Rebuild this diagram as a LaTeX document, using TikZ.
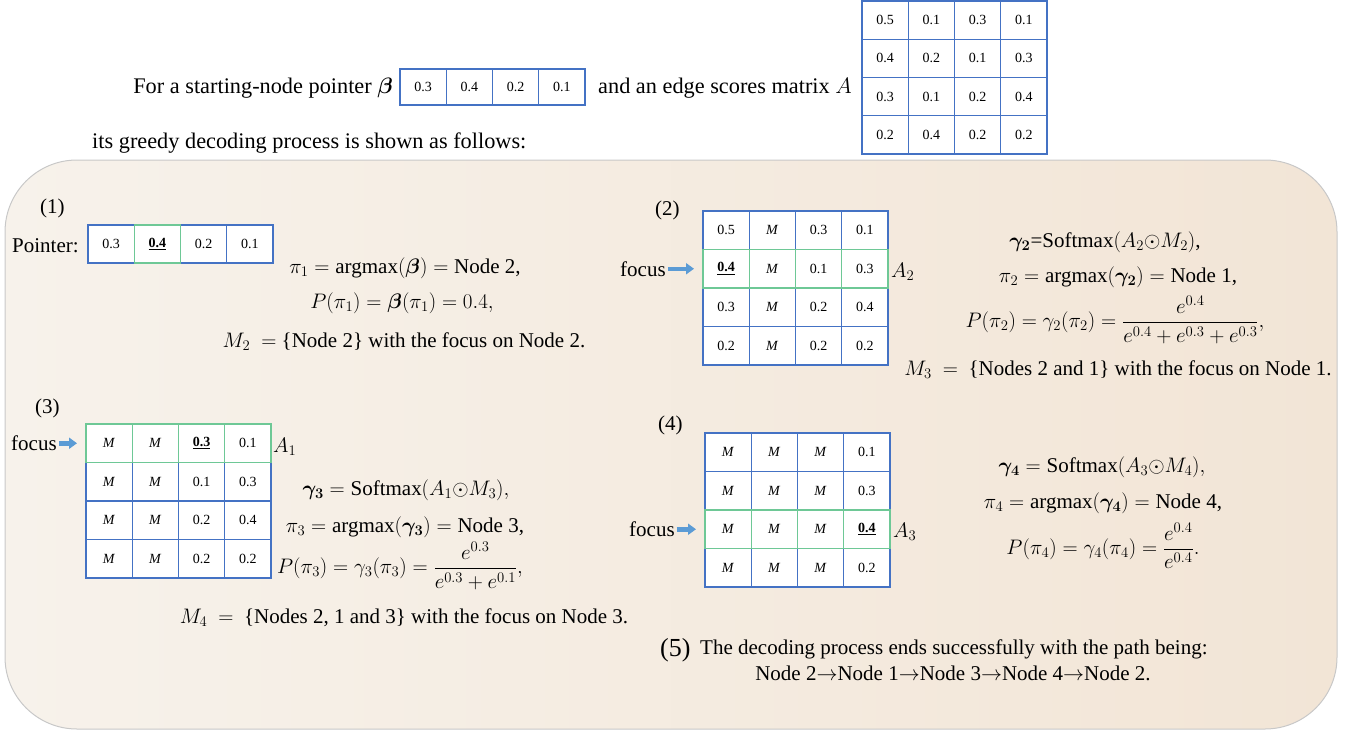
\RequirePackage{fix-cm}
\documentclass[tikz,border=0pt]{standalone}
\usepackage{amsmath,bm}
\usepackage{fontspec}
\setmainfont{Liberation Serif}
\usetikzlibrary{arrows.meta}
\definecolor{cblue}{RGB}{68,114,196}
\definecolor{cgreen}{RGB}{110,200,150}
\definecolor{bgl}{RGB}{247,242,235}
\definecolor{bgr}{RGB}{242,229,214}
\definecolor{bord}{RGB}{200,200,200}
\definecolor{arrfill}{RGB}{91,155,213}
\newcommand{\Mi}{\textit{M}}
\newcommand{\hlv}[1]{\underline{\textbf{#1}}}
\newcommand{\ra}{$\rightarrow$}
\tikzset{
  cell/.style={draw=cblue, line width=1.2pt, fill=white, minimum width=46.25pt,
    inner sep=0pt, outer sep=0pt, font=\fontsize{14}{16}\selectfont},
  hlline/.style={draw=cgreen, line width=1.3pt},
  txt/.style={font=\fontsize{21}{25}\selectfont, inner sep=0pt},
  bigtxt/.style={font=\fontsize{22.3}{26}\selectfont, inner sep=0pt},
  eq/.style={txt, anchor=center},
  focusarr/.style={draw=arrfill, line width=4.5pt, -{Triangle[length=8pt,width=11pt]},
    shorten <=2pt, shorten >=9pt},
}
\newcommand{\gridmat}[5]{%
  \foreach [count=\r] \row in {#5} {%
    \foreach [count=\c] \v in \row {%
      \node[cell, minimum height=#4pt] (#1-\r-\c) at ({#2+(\c-0.5)*46.25},{#3+(\r-0.5)*#4}) {\v};
    }%
  }%
}
\newcommand{\hlrow}[2]{%
  \foreach \c in {1,...,4} {\draw[hlline] (#1-#2-\c.north west) rectangle (#1-#2-\c.south east);}%
}
\begin{document}
\begin{tikzpicture}[x=1pt,y=-1pt]
\useasboundingbox (0,0) rectangle (1346,733);
\shadedraw[left color=bgl, right color=bgr, draw=bord, line width=1pt, rounded corners=72pt]
  (5,160) rectangle (1337,729);

% intro
\node[bigtxt, anchor=east] (intro) at (393,88) {For a starting-node pointer $\bm{\beta}$};
\gridmat{beta}{400}{69}{36}{{0.3,0.4,0.2,0.1}}
\node[bigtxt, anchor=west] (intro2) at (598,88) {and an edge scores matrix $A$};
\gridmat{A}{862}{1}{38.25}{{0.5,0.1,0.3,0.1},{0.4,0.2,0.1,0.3},{0.3,0.1,0.2,0.4},{0.2,0.4,0.2,0.2}}
\node[bigtxt, anchor=west] (intro3) at (92,143) {its greedy decoding process is shown as follows:};

% (1)
\node[txt, anchor=west] (n1) at (40,208) {(1)};
\node[txt, anchor=west] (ptr) at (12,246) {Pointer:};
\gridmat{p1}{88}{225}{38}{{0.3,\hlv{0.4},0.2,0.1}}
\draw[hlline] (p1-1-2.north west) rectangle (p1-1-2.south east);
\node[eq] (e1a) at (405,268) {$\pi_1 = \text{argmax}(\bm{\beta}) = \text{Node 2,}$};
\node[eq] (e1b) at (402,303) {$P(\pi_1) = \bm{\beta}(\pi_1) = 0.4,$};
\node[eq] (e1c) at (404,342) {$M_2\ =\ $\{Node 2\} with the focus on Node 2.};

% (2)
\node[txt, anchor=west] (n2) at (655,210) {(2)};
\gridmat{m2}{703}{211}{38.5}{{0.5,\Mi,0.3,0.1},{\hlv{0.4},\Mi,0.1,0.3},{0.3,\Mi,0.2,0.4},{0.2,\Mi,0.2,0.2}}
\hlrow{m2}{2}
\node[txt, anchor=west] (f2) at (620,268.75) {focus};
\draw[focusarr] (f2.east) -- (f2.east -| m2-2-1.west);
\node[txt, anchor=west] (a2) at (891,272) {$A_2$};
\node[eq] (e2a) at (1105,242) {$\bm{\gamma_2}$=Softmax$(A_2{\odot}M_2)$,};
\node[eq] (e2b) at (1118,277) {$\pi_2 = \text{argmax}(\bm{\gamma_2}) = \text{Node 1,}$};
\node[eq] (e2c) at (1115,320) {$P(\pi_2) = \gamma_2(\pi_2) = \dfrac{e^{0.4}}{e^{0.4}+e^{0.3}+e^{0.3}},$};
\node[eq] (e2d) at (1118,370) {$M_3\ =\ $ \{Nodes 2 and 1\} with the focus on Node 1.};

% (3)
\node[txt, anchor=west] (n3) at (35,408) {(3)};
\gridmat{m3}{86}{424}{38.5}{{\Mi,\Mi,\hlv{0.3},0.1},{\Mi,\Mi,0.1,0.3},{\Mi,\Mi,0.2,0.4},{\Mi,\Mi,0.2,0.2}}
\hlrow{m3}{1}
\node[txt, anchor=west] (f3) at (11,443.25) {focus};
\draw[focusarr] (f3.east) -- (f3.east -| m3-1-1.west);
\node[txt, anchor=west] (a3) at (273,447) {$A_1$};
\node[eq] (e3a) at (406,490) {$\bm{\gamma_3} = \text{Softmax}(A_1{\odot}M_3),$};
\node[eq] (e3b) at (405,527) {$\pi_3 = \text{argmax}(\bm{\gamma_3}) = \text{Node 3,}$};
\node[eq] (e3c) at (400,566) {$P(\pi_3) = \gamma_3(\pi_3) = \dfrac{e^{0.3}}{e^{0.3}+e^{0.1}},$};
\node[eq] (e3d) at (404,618) {$M_4\ =\ $ \{Nodes 2, 1 and 3\} with the focus on Node 3.};

% (4)
\node[txt, anchor=west] (n4) at (658,425) {(4)};
\gridmat{m4}{705}{433}{38.5}{{\Mi,\Mi,\Mi,0.1},{\Mi,\Mi,\Mi,0.3},{\Mi,\Mi,\Mi,\hlv{0.4}},{\Mi,\Mi,\Mi,0.2}}
\hlrow{m4}{3}
\node[txt, anchor=west] (f4) at (629,529.25) {focus};
\draw[focusarr] (f4.east) -- (f4.east -| m4-3-1.west);
\node[txt, anchor=west] (a4) at (893,532) {$A_3$};
\node[eq] (e4a) at (1102,467) {$\bm{\gamma_4} = \text{Softmax}(A_3{\odot}M_4),$};
\node[eq] (e4b) at (1103,503) {$\pi_4 = \text{argmax}(\bm{\gamma_4}) = \text{Node 4,}$};
\node[eq] (e4c) at (1103,546) {$P(\pi_4) = \gamma_4(\pi_4) = \dfrac{e^{0.4}}{e^{0.4}}.$};

% (5)
\node[txt, anchor=west, font=\fontsize{26}{30}\selectfont] (n5) at (660,650) {(5)};
\node[txt, anchor=west] (t5a) at (700,649) {The decoding process ends successfully with the path being:};
\node[eq] (t5b) at (953,673) {Node 2\ra Node 1\ra Node 3\ra Node 4\ra Node 2.};
\end{tikzpicture}
\end{document}
